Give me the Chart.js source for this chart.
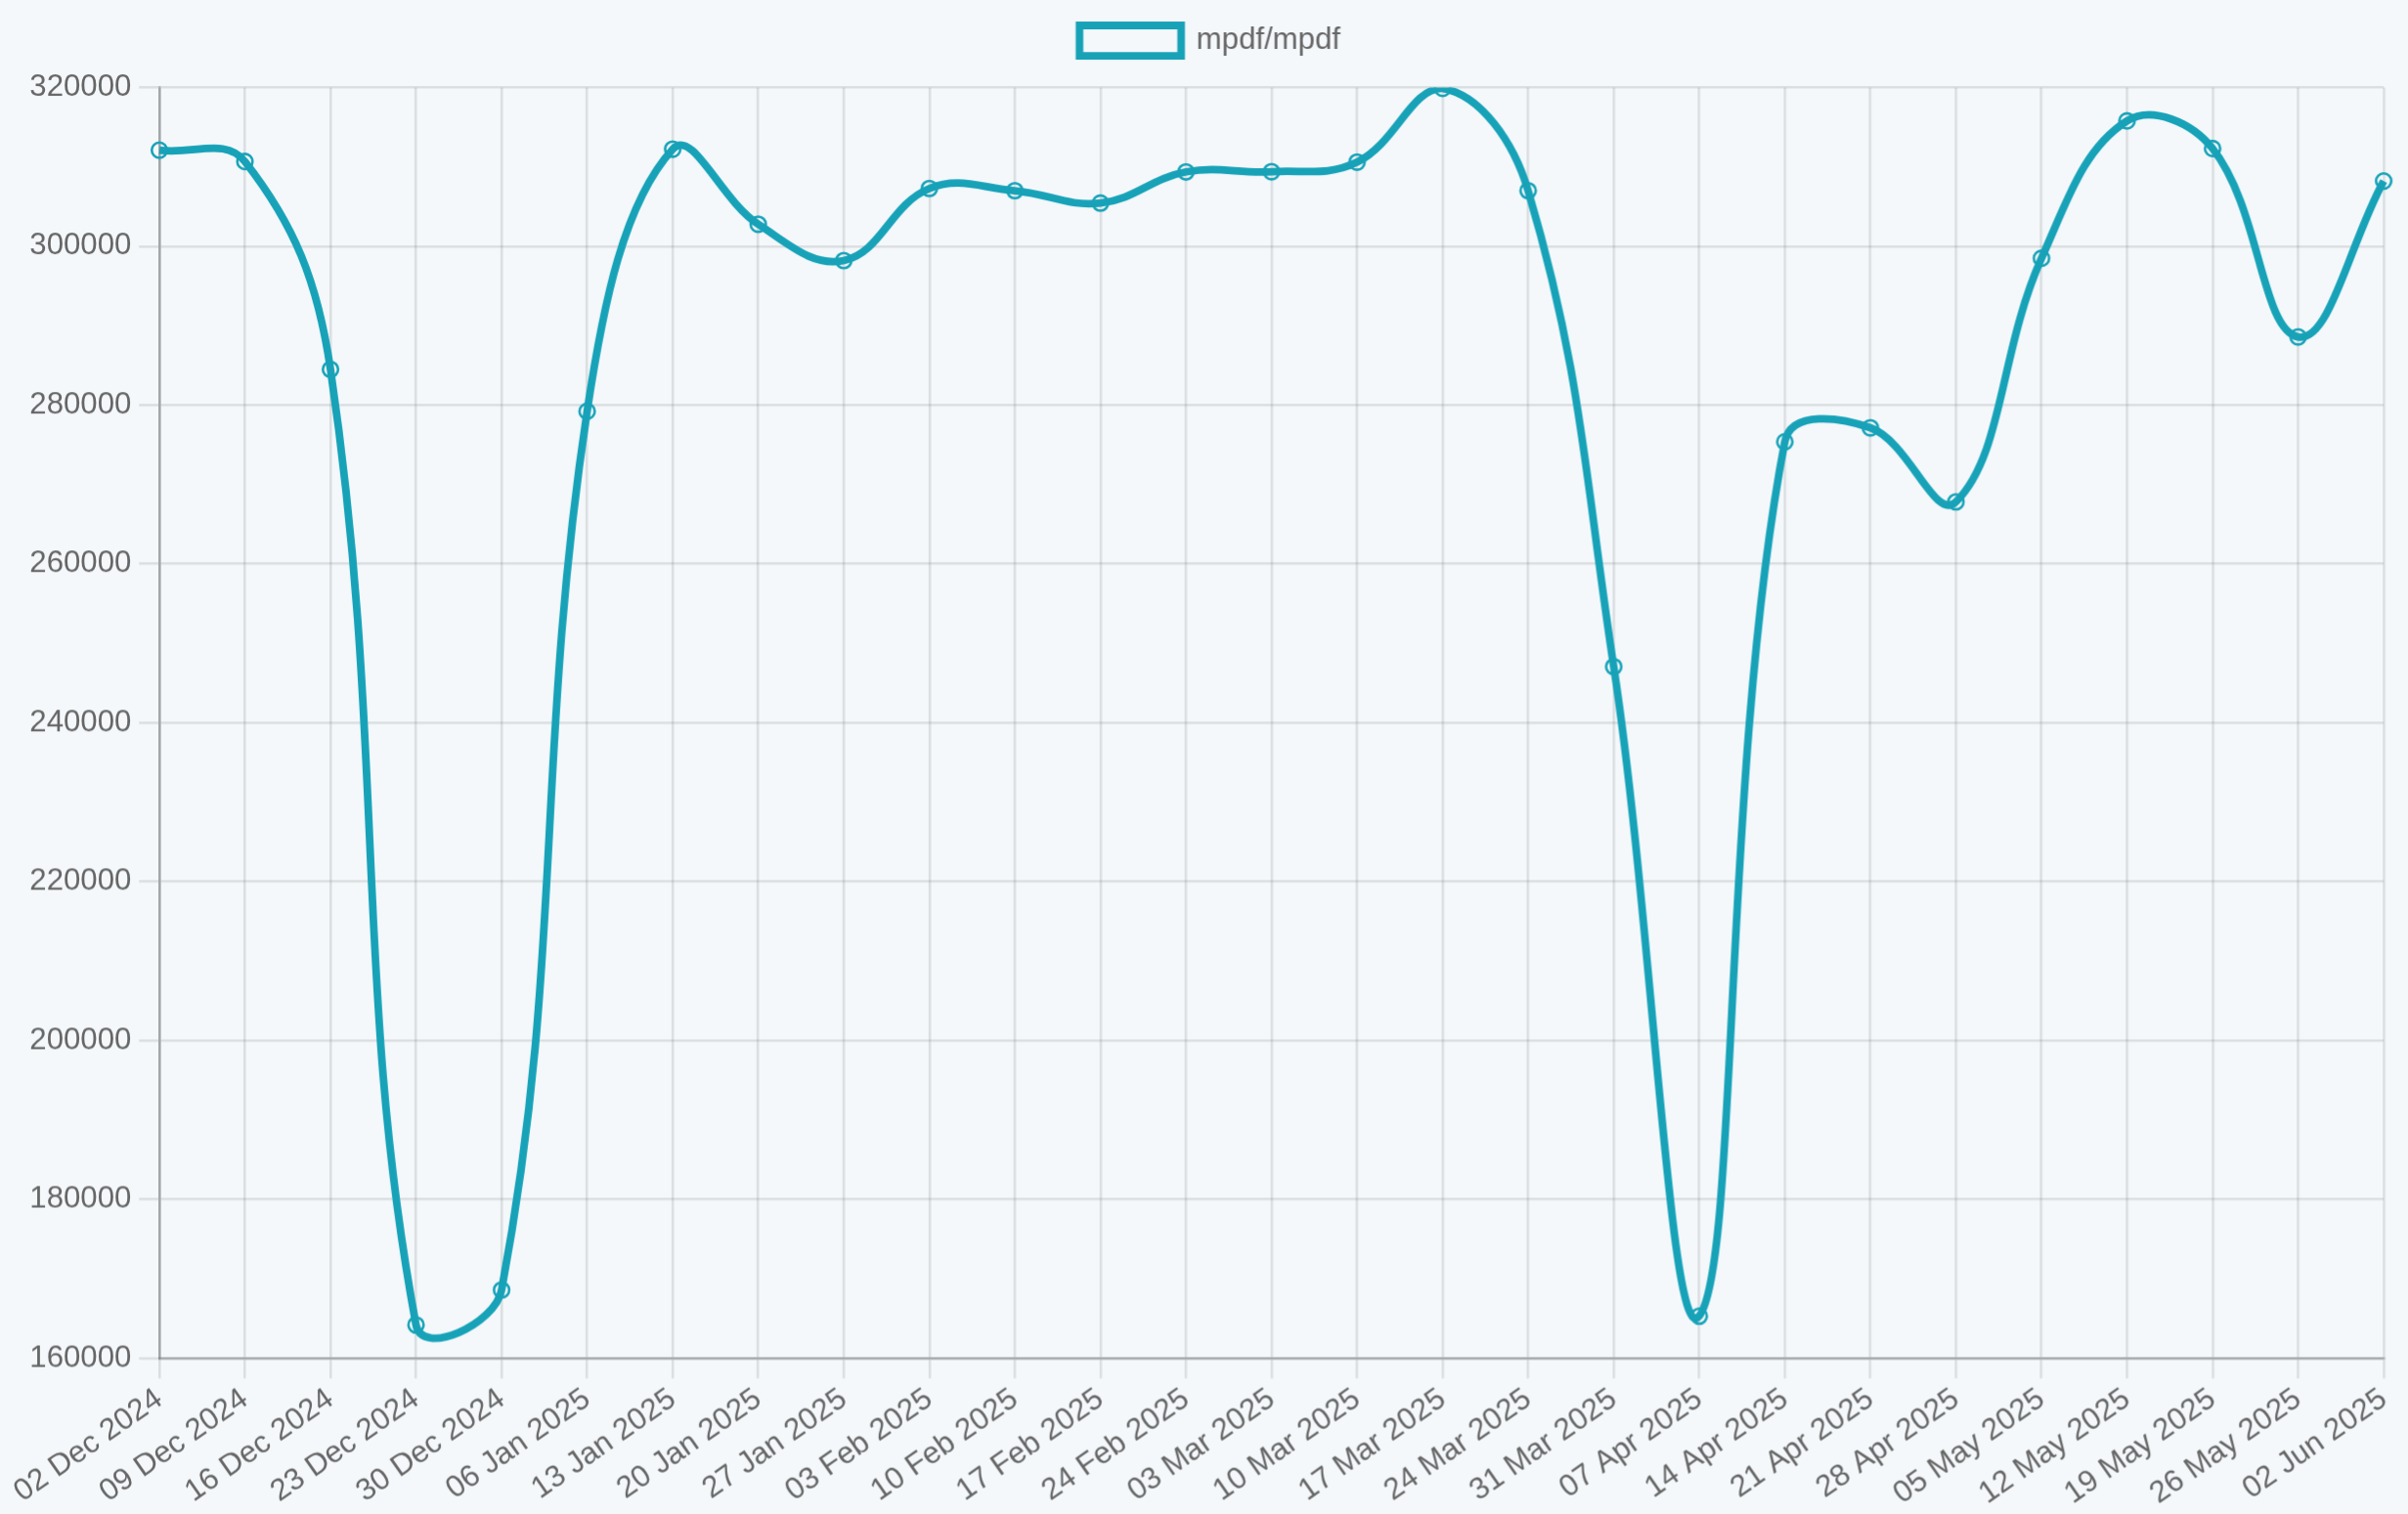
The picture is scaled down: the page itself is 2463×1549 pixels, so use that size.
<!DOCTYPE html>
<html>
<head>
<meta charset="utf-8">
<script src="https://cdn.jsdelivr.net/npm/chart.js@4/dist/chart.umd.min.js"></script>
<style>
  html, body { margin: 0; padding: 0; background: #f4f8fb; overflow: hidden; }
  #wrap {
    position: absolute; left: 0; top: 0;
    width: 947.3px; height: 595.8px;
    transform: scale(2.6); transform-origin: 0 0;
  }
</style>
</head>
<body>
<div id="wrap"><canvas id="starsChart"></canvas></div>
<script>
// weekly snapshots
const weeks = [
  '02 Dec 2024', '09 Dec 2024', '16 Dec 2024', '23 Dec 2024', '30 Dec 2024',
  '06 Jan 2025', '13 Jan 2025', '20 Jan 2025', '27 Jan 2025',
  '03 Feb 2025', '10 Feb 2025', '17 Feb 2025', '24 Feb 2025',
  '03 Mar 2025', '10 Mar 2025', '17 Mar 2025', '24 Mar 2025', '31 Mar 2025',
  '07 Apr 2025', '14 Apr 2025', '21 Apr 2025', '28 Apr 2025',
  '05 May 2025', '12 May 2025', '19 May 2025', '26 May 2025', '02 Jun 2025'
];

const mpdfValues = [
  312100, 310680, 284500, 164180, 168580,
  279220, 312230, 302780, 298200,
  307280, 307000, 305440, 309370,
  309400, 310600, 319880, 307000, 247070,
  165290, 275380, 277140, 267820,
  298490, 315790, 312310, 288590, 308220
];

const yTicks = [160000, 180000, 200000, 220000, 240000, 260000, 280000, 300000, 320000];

const lineColor = '#17a2b8';
const textColor = '#666';
const gridColor = 'rgba(0, 0, 0, 0.1)';

// a bit more room under the legend
const legendGap = {
  id: 'legendGap',
  beforeInit(chart) {
    const fit = chart.legend.fit;
    chart.legend.fit = function () {
      fit.call(this);
      this.height += 2.4;
    };
  }
};

const ctx = document.getElementById('starsChart');

new Chart(ctx, {
  type: 'line',
  data: {
    labels: weeks,
    datasets: [{
      label: 'mpdf/mpdf',
      data: mpdfValues,
      borderColor: lineColor,
      backgroundColor: 'transparent',
      borderWidth: 3,
      tension: 0.4,
      fill: false,
      pointRadius: 3,
      pointBorderWidth: 1,
      pointBorderColor: lineColor,
      pointBackgroundColor: 'transparent'
    }]
  },
  plugins: [legendGap],
  options: {
    responsive: true,
    maintainAspectRatio: false,
    devicePixelRatio: 2.6,
    animation: false,
    layout: {
      padding: { right: -5 }
    },
    plugins: {
      legend: {
        display: true,
        labels: {
          color: textColor,
          font: { size: 12 },
          boxWidth: 40,
          boxHeight: 12
        }
      },
      tooltip: { enabled: false }
    },
    scales: {
      x: {
        ticks: {
          color: textColor,
          font: { size: 12 },
          minRotation: 35,
          maxRotation: 35,
          padding: 1,
          autoSkip: false
        },
        grid: { color: gridColor },
        border: { color: 'rgba(0, 0, 0, 0.25)' }
      },
      y: {
        min: yTicks[0],
        max: yTicks[yTicks.length - 1],
        afterBuildTicks: (axis) => {
          axis.ticks = yTicks.map(v => ({ value: v }));
        },
        afterFit: (axis) => {
          axis.width = 62.7;
        },
        ticks: {
          color: textColor,
          font: { size: 12 },
          callback: (value) => String(value)
        },
        grid: { color: gridColor },
        border: { color: 'rgba(0, 0, 0, 0.25)' }
      }
    }
  }
});
</script>
</body>
</html>
